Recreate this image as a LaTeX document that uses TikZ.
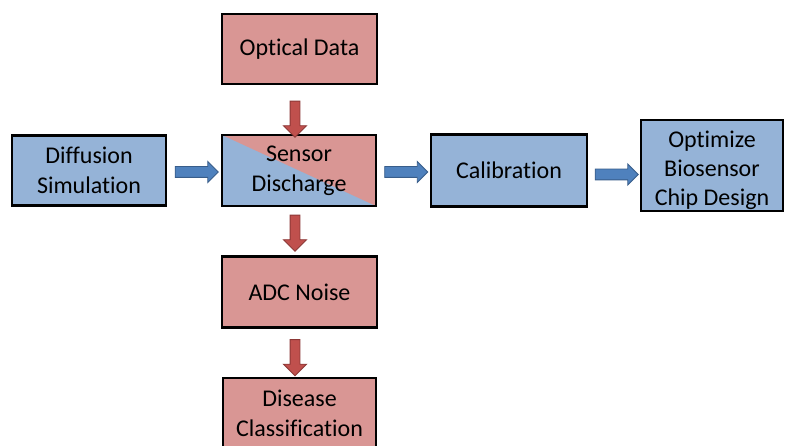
\documentclass[tikz,border=0pt]{standalone}
\usepackage{fontspec}
\setmainfont[Ligatures={NoCommon}]{Carlito}
\usetikzlibrary{shapes.arrows,calc}
\definecolor{boxred}{HTML}{D99694}
\definecolor{boxblue}{HTML}{95B3D7}
\definecolor{arrred}{HTML}{C0504D}
\definecolor{arrredd}{HTML}{8C3836}
\definecolor{arrblue}{HTML}{4F81BD}
\definecolor{arrblued}{HTML}{385D8A}
\tikzset{
  box/.style={draw=black, line width=2.4pt, minimum width=155pt, minimum height=70pt,
    inner sep=0pt, align=center, font=\fontsize{24}{30}\selectfont},
  redbox/.style={box, fill=boxred},
  bluebox/.style={box, fill=boxblue},
  blockarr/.style={single arrow, single arrow head indent=0pt, line width=0.9pt},
  redarr/.style={blockarr, inner sep=4.5pt, fill=arrred, draw=arrredd, shape border rotate=270,
    single arrow head extend=6.5pt, minimum height=36pt},
  bluearr/.style={blockarr, inner sep=5pt, fill=arrblue, draw=arrblued,
    single arrow head extend=5pt, minimum height=43pt}
}
\begin{document}
\begin{tikzpicture}[x=1pt,y=1pt]
\useasboundingbox (0,0) rectangle (786,445);
\clip (0,0) rectangle (786,445);
\fill[white] (0,0) rectangle (786,445);
% boxes
\node[redbox] (opt) at (299.5,396) {Optical Data};
\node[bluebox, minimum width=154pt] (dif) at (89,274.5) {Diffusion\\Simulation};
\node[box, minimum width=154pt, minimum height=71pt, fill=boxblue,
  path picture={\fill[boxred] (path picture bounding box.north west) --
    (path picture bounding box.north east) -- (path picture bounding box.south east) -- cycle;}]
  (sen) at (299,274.5) {Sensor\\Discharge};
\node[bluebox, minimum width=156pt, minimum height=72pt] (cal) at (509,274.5) {Calibration};
\node[bluebox, minimum width=142pt, minimum height=91pt] (optz) at (712,279.5) {};
\node[align=center, inner sep=0pt, font=\fontsize{24}{29}\selectfont] (optzt)
  at ($(optz.center)+(0,-5)$) {Optimize\\Biosensor\\Chip Design};
\node[redbox, minimum height=71pt] (adc) at (299.5,153) {ADC Noise};
\node[redbox, minimum width=153pt] (dis) at (299.5,32) {Disease\\Classification};
% connectors (block arrows between the boxes)
\coordinate (a1) at ($(opt.south)+(-4.5,-31.5)$);
\coordinate (a2) at ($(sen.south)+(-4,-23.5)$);
\coordinate (a3) at ($(adc.south)+(-4.5,-26.5)$);
\node[redarr] (ra1) at (a1) {};
\node[redarr] (ra2) at (a2) {};
\node[redarr] (ra3) at (a3) {};
\coordinate (b1) at ($(dif.east)!0.5!(sen.west)+(0,-1.5)$);
\coordinate (b2) at ($(sen.east)!0.5!(cal.west)+(0,-1.5)$);
\coordinate (b3) at ($(cal.east)!0.5!(optz.west)+(0,-6.5)$);
\node[bluearr] (ba1) at (b1) {};
\node[bluearr] (ba2) at (b2) {};
\node[bluearr] (ba3) at (b3) {};
\end{tikzpicture}
\end{document}
